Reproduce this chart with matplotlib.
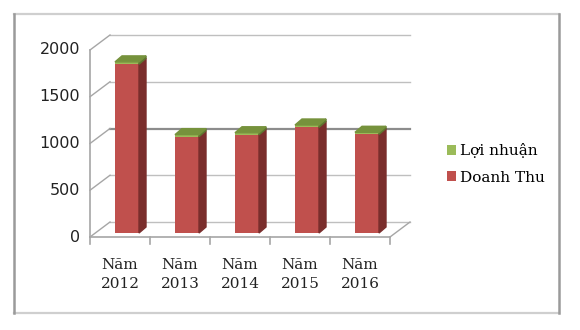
#!/usr/bin/env python3

import matplotlib
matplotlib.use("Agg")
import matplotlib.pyplot as plt
from matplotlib.patches import Polygon, Patch
from matplotlib.lines import Line2D


years = ["Năm\n2012", "Năm\n2013", "Năm\n2014", "Năm\n2015", "Năm\n2016"]
doanh_thu = [1805, 1030, 1050, 1130, 1055]
loi_nhuan = [25, 22, 22, 25, 22]
y_ticks = [0, 500, 1000, 1500, 2000]

RED = "#C0504D"
RED_SIDE = "#7A2E2C"
GREEN = "#9BBB59"
GREEN_TOP = "#76923C"
GREEN_SIDE = "#5E7530"
GRID = "#BFBFBF"

W, H = 580, 330
fig = plt.figure(figsize=(W / 100, H / 100), dpi=100)

# outer frame of the chart
fig.add_artist(Line2D([14 / W, 559 / W], [1 - 14 / H, 1 - 14 / H], color="#CFCFCF", lw=1.6))
fig.add_artist(Line2D([14 / W, 559 / W], [1 - 313 / H, 1 - 313 / H], color="#CFCFCF", lw=1.6))
fig.add_artist(Line2D([14 / W, 14 / W], [1 - 14 / H, 1 - 313 / H], color="#9A9A9A", lw=1.8))
fig.add_artist(Line2D([559 / W, 559 / W], [1 - 14 / H, 1 - 313 / H], color="#9A9A9A", lw=1.8))

# axes mapped so front floor is y=0 and categories are 60 px apart
px_x0, px_x1 = 90, 410
px_y0, px_y1 = 237, 36
ax = fig.add_axes([px_x0 / W, 1 - px_y0 / H, (px_x1 - px_x0) / W, (px_y0 - px_y1) / H])
per_cat = 60.0
per_val = 93.5 / 1000
x_min = -0.5
x_max = x_min + (px_x1 - px_x0) / per_cat
y_max = (px_y0 - px_y1) / per_val
ax.set_xlim(x_min, x_max)
ax.set_ylim(0, y_max)
ax.axis("off")

# wall depth (oblique projection)
ddx = 20 / per_cat
ddy = 15 / per_val
n = len(years)
x_right = n - 0.5

# back wall gridlines + side wall diagonals
for v in y_ticks:
    dark = (v == 1000)
    ax.plot([x_min + ddx, x_right + ddx], [v + ddy, v + ddy],
            color="#8C8C8C" if dark else GRID, lw=1.6 if dark else 1.0,
            zorder=1, clip_on=False)
    ax.plot([x_min, x_min + ddx], [v, v + ddy], color="#A6A6A6", lw=1.0,
            zorder=1, clip_on=False)
    ax.text(x_min - 10 / per_cat, v, str(v), ha="right", va="center",
            fontsize=11.5, family="DejaVu Sans", color="#222222")

# floor edges
ax.plot([x_right, x_right + ddx], [0, ddy], color="#A6A6A6", lw=1.0, zorder=1, clip_on=False)
ax.plot([x_min, x_min], [0, y_ticks[-1]], color="#A6A6A6", lw=1.2, zorder=2, clip_on=False)

# bars: front face set inside the depth, with side and top faces
fx = 7 / per_cat
fy = 4 / per_val
bw = 24 / per_cat
bdx = 7 / per_cat
bdy = 6 / per_val
xs = [i + fx for i in range(n)]
ax.bar(xs, doanh_thu, width=bw, bottom=fy, color=RED, zorder=3)
ax.bar(xs, loi_nhuan, width=bw, bottom=[fy + d for d in doanh_thu], color=GREEN, zorder=3)
for x, d, l in zip(xs, doanh_thu, loi_nhuan):
    r = x + bw / 2
    lft = x - bw / 2
    b = fy
    t1 = fy + d
    t2 = t1 + l
    ax.add_patch(Polygon([(r, b), (r + bdx, b + bdy), (r + bdx, t1 + bdy), (r, t1)],
                         closed=True, color=RED_SIDE, zorder=3))
    ax.add_patch(Polygon([(r, t1), (r + bdx, t1 + bdy), (r + bdx, t2 + bdy), (r, t2)],
                         closed=True, color=GREEN_SIDE, zorder=3))
    ax.add_patch(Polygon([(lft, t2), (r, t2), (r + bdx, t2 + bdy), (lft + bdx, t2 + bdy)],
                         closed=True, color=GREEN_TOP, zorder=3))

# front category axis with tick marks
ax.plot([x_min, x_right], [0, 0], color="#A6A6A6", lw=1.2, zorder=4, clip_on=False)
for i in range(n + 1):
    xt = x_min + i
    ax.plot([xt, xt], [0, -7 / per_val], color="#A6A6A6", lw=1.2, zorder=4, clip_on=False)

for i, lab in enumerate(years):
    ax.annotate(lab, xy=(i, 0), xytext=(0, -21), textcoords="offset pixels",
                ha="center", va="top", fontsize=11, family="DejaVu Serif",
                linespacing=1.45, color="#222222", annotation_clip=False)

handles = [Patch(facecolor=GREEN, edgecolor="none", label="Lợi nhuận"),
           Patch(facecolor=RED, edgecolor="none", label="Doanh Thu")]
fig.legend(handles=handles, loc="center left", bbox_to_anchor=(436 / W, 1 - 164 / H),
           frameon=False, prop={"family": "DejaVu Serif", "size": 11},
           handlelength=0.6, handleheight=0.6, handletextpad=0.3,
           labelspacing=0.8, borderpad=0.2)

fig.savefig("out.png", dpi=100)
